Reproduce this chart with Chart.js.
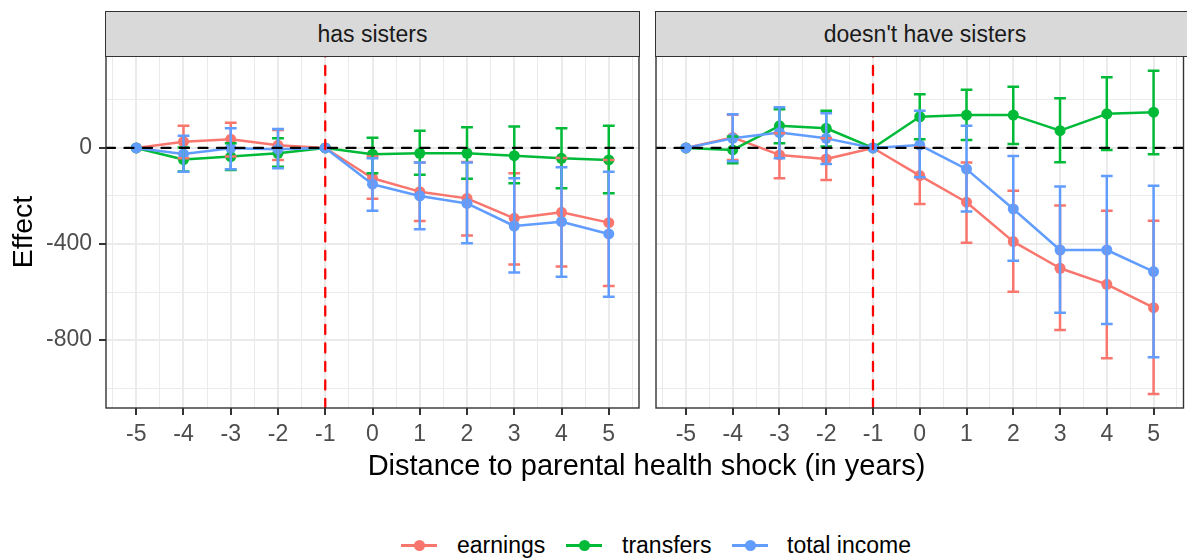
<!DOCTYPE html>
<html>
<head>
<meta charset="utf-8">
<script src="https://cdn.jsdelivr.net/npm/chart.js@4.4.0/dist/chart.umd.min.js"></script>
<style>
  html, body { margin: 0; padding: 0; background: #fff; overflow: hidden; width: 1187px; height: 560px; }
  #wrap { position: relative; width: 1187px; height: 560px; font-family: "Liberation Sans", Arial, sans-serif; }
  canvas { position: absolute; top: 0; }
  .strip { position: absolute; top: 11px; height: 46px; box-sizing: border-box; background: #d9d9d9;
           border: 1.4px solid #333; color: #1a1a1a; font-size: 23px; line-height: 44px; text-align: center; }
  .xtitle { position: absolute; left: 106px; width: 1081px; top: 446px; height: 38px; line-height: 38px;
            text-align: center; font-size: 29px; color: #000; }
  .key { position: absolute; top: 544px; height: 2.5px; width: 36px; }
  .key i { position: absolute; left: 12.5px; top: -4.25px; width: 11px; height: 11px; border-radius: 50%; }
  .lab { position: absolute; top: 530px; height: 30px; line-height: 30px; font-size: 23px; color: #000; white-space: nowrap; }
</style>
</head>
<body>
<div id="wrap">
  <canvas id="left" width="645" height="450" style="left:0px"></canvas>
  <canvas id="right" width="539" height="450" style="left:650px"></canvas>
  <div class="strip" style="left:105px; width:535px;">has sisters</div>
  <div class="strip" style="left:655px; width:540px;">doesn't have sisters</div>
  <div class="xtitle">Distance to parental health shock (in years)</div>
  <div id="legend"></div>
</div>
<script>
// Event time (years relative to the shock)
const years = [-5, -4, -3, -2, -1, 0, 1, 2, 3, 4, 5];

// Panel: has sisters — estimates and 95% interval bounds
const sisEarn    = [0, 26, 36, 11, 0, -126, -182, -210, -293, -268, -311];
const sisEarnLo  = [null, -43, -36, -50, null, -212, -304, -365, -485, -494, -575];
const sisEarnHi  = [null, 92, 105, 75, null, -36, -61, -58, -105, -42, -50];
const sisTrans   = [0, -48, -36, -22, 0, -26, -22, -22, -32, -43, -50];
const sisTransLo = [null, -98, -92, -78, null, -105, -112, -128, -147, -168, -189];
const sisTransHi = [null, 2, 20, 40, null, 43, 72, 86, 89, 82, 92];
const sisTotal   = [0, -25, -1, -5, 0, -151, -200, -231, -325, -307, -358];
const sisTotalLo = [null, -99, -89, -85, null, -262, -339, -397, -519, -536, -620];
const sisTotalHi = [null, 51, 82, 79, null, -43, -61, -61, -126, -80, -99];

// Panel: doesn't have sisters
const noEarn    = [0, 44, -29, -46, 0, -115, -226, -390, -501, -568, -665];
const noEarnLo  = [null, -50, -126, -133, null, -233, -395, -599, -758, -876, -1025];
const noEarnHi  = [null, 138, 61, 40, null, 2, -61, -178, -240, -261, -303];
const noTrans   = [0, -8, 92, 82, 0, 130, 137, 137, 72, 142, 149];
const noTransLo = [null, -64, 20, 6, null, 36, 33, 17, -60, -8, -26];
const noTransHi = [null, 48, 161, 155, null, 224, 242, 255, 207, 294, 322];
const noTotal   = [0, 40, 64, 40, 0, 12, -88, -254, -425, -425, -515];
const noTotalLo = [null, -55, -43, -67, null, -122, -265, -470, -686, -733, -872];
const noTotalHi = [null, 140, 170, 145, null, 155, 92, -33, -161, -117, -157];

// Series names, panel titles and tick labels
const seriesNames = ['earnings', 'transfers', 'total income'];
const seriesColors = ['#F8766D', '#00BA38', '#619CFF'];
const yMajor = [-800, -400, 0];
const yMinor = [-1000, -600, -200, 200];
const shockYear = -1;

const FONT = '"Liberation Sans", Arial, sans-serif';
const capHalf = 0.125;

function isMajorX(v) { return Number.isInteger(v); }
function isMajorY(v) { return yMajor.includes(v); }

const xGrid = years.flatMap(v => [v - 0.5, v]).concat([5.5]);
const yGrid = yMajor.concat(yMinor).sort((a, b) => a - b);

// Error bars, zero line, shock line and panel frame
const facetDecor = {
  id: 'facetDecor',
  afterDatasetsDraw(chart) {
    const { ctx, chartArea: a, scales: { x, y } } = chart;
    ctx.save();
    ctx.beginPath();
    ctx.rect(a.left, a.top, a.right - a.left, a.bottom - a.top);
    ctx.clip();
    chart.data.datasets.forEach(ds => {
      ctx.strokeStyle = ds.borderColor;
      ctx.lineWidth = 2.5;
      ctx.lineCap = 'butt';
      years.forEach((yr, i) => {
        const lo = ds.errLo[i], hi = ds.errHi[i];
        if (lo == null || hi == null) return;
        const px = x.getPixelForValue(yr);
        const x0 = x.getPixelForValue(yr - capHalf), x1 = x.getPixelForValue(yr + capHalf);
        const yl = y.getPixelForValue(lo), yh = y.getPixelForValue(hi);
        ctx.beginPath();
        ctx.moveTo(px, yl); ctx.lineTo(px, yh);
        ctx.moveTo(x0, yl); ctx.lineTo(x1, yl);
        ctx.moveTo(x0, yh); ctx.lineTo(x1, yh);
        ctx.stroke();
      });
    });
    // horizontal zero line
    ctx.setLineDash([9, 9.5]);
    ctx.lineCap = 'round';
    ctx.lineWidth = 2.3;
    ctx.strokeStyle = '#000';
    const y0 = y.getPixelForValue(0);
    ctx.beginPath(); ctx.moveTo(a.left, y0); ctx.lineTo(a.right, y0); ctx.stroke();
    // vertical line at the last pre-shock year
    ctx.strokeStyle = '#FF0000';
    const xv = x.getPixelForValue(shockYear);
    ctx.beginPath(); ctx.moveTo(xv, a.bottom); ctx.lineTo(xv, a.top); ctx.stroke();
    ctx.restore();
  },
  afterDraw(chart) {
    const { ctx, chartArea: a } = chart;
    ctx.save();
    ctx.strokeStyle = '#333';
    ctx.lineWidth = 1.4;
    ctx.strokeRect(a.left, a.top, a.right - a.left, a.bottom - a.top);
    ctx.restore();
  }
};

function makeDatasets(triples) {
  return triples.map((t, k) => ({
    label: seriesNames[k],
    data: years.map((yr, i) => ({ x: yr, y: t[0][i] })),
    errLo: t[1],
    errHi: t[2],
    borderColor: seriesColors[k],
    backgroundColor: seriesColors[k],
    pointBackgroundColor: seriesColors[k],
    pointBorderWidth: 0,
    pointRadius: 5.5,
    borderWidth: 2.5,
    borderJoinStyle: 'round',
    tension: 0,
    order: 3 - k
  }));
}

function makePanel(id, triples, withYAxis) {
  return new Chart(document.getElementById(id), {
    type: 'line',
    data: { datasets: makeDatasets(triples) },
    plugins: [facetDecor],
    options: {
      responsive: false,
      animation: false,
      layout: { padding: { top: 56, right: withYAxis ? 6 : 0, left: 0, bottom: 0 } },
      plugins: { legend: { display: false }, tooltip: { enabled: false } },
      scales: {
        x: {
          type: 'linear', min: -5.64, max: 5.64,
          afterBuildTicks: s => { s.ticks = xGrid.map(v => ({ value: v })); },
          afterFit: s => { s.height = 42; },
          border: { display: false },
          grid: {
            color: '#ebebeb',
            lineWidth: c => (c.tick && isMajorX(c.tick.value)) ? 2 : 1,
            tickColor: c => (c.tick && isMajorX(c.tick.value)) ? '#333' : 'rgba(0,0,0,0)',
            tickLength: 7, tickWidth: 2
          },
          ticks: {
            autoSkip: false, maxRotation: 0, padding: 6, color: '#4d4d4d',
            font: { size: 23, family: FONT },
            callback: v => isMajorX(v) ? String(v) : ''
          }
        },
        y: {
          type: 'linear', min: -1083, max: 383,
          afterBuildTicks: s => { s.ticks = yGrid.map(v => ({ value: v })); },
          afterFit: s => { s.width = withYAxis ? 106 : 6; },
          border: { display: false },
          grid: {
            color: '#ebebeb',
            lineWidth: c => (c.tick && isMajorY(c.tick.value)) ? 2 : 1,
            tickColor: c => (c.tick && isMajorY(c.tick.value)) ? '#333' : 'rgba(0,0,0,0)',
            drawTicks: withYAxis, tickLength: 7, tickWidth: 2
          },
          ticks: {
            display: withYAxis, autoSkip: false, padding: 7, color: '#4d4d4d',
            font: { size: 23, family: FONT },
            callback: v => isMajorY(v) ? String(v) : ''
          },
          title: {
            display: withYAxis, text: 'Effect', color: '#000',
            font: { size: 28.5, family: FONT }, padding: { top: 7, bottom: 0 }
          }
        }
      }
    }
  });
}

makePanel('left', [[sisEarn, sisEarnLo, sisEarnHi], [sisTrans, sisTransLo, sisTransHi], [sisTotal, sisTotalLo, sisTotalHi]], true);
makePanel('right', [[noEarn, noEarnLo, noEarnHi], [noTrans, noTransLo, noTransHi], [noTotal, noTotalLo, noTotalHi]], false);

// Legend below the panels
const legendKeyX = [401, 566, 732];
const legendLabelX = [457, 622, 787];
const legend = document.getElementById('legend');
seriesNames.forEach((name, k) => {
  const key = document.createElement('div');
  key.className = 'key';
  key.style.left = legendKeyX[k] + 'px';
  key.style.background = seriesColors[k];
  const dot = document.createElement('i');
  dot.style.background = seriesColors[k];
  key.appendChild(dot);
  legend.appendChild(key);
  const lab = document.createElement('div');
  lab.className = 'lab';
  lab.style.left = legendLabelX[k] + 'px';
  lab.textContent = name;
  legend.appendChild(lab);
});
</script>
</body>
</html>
